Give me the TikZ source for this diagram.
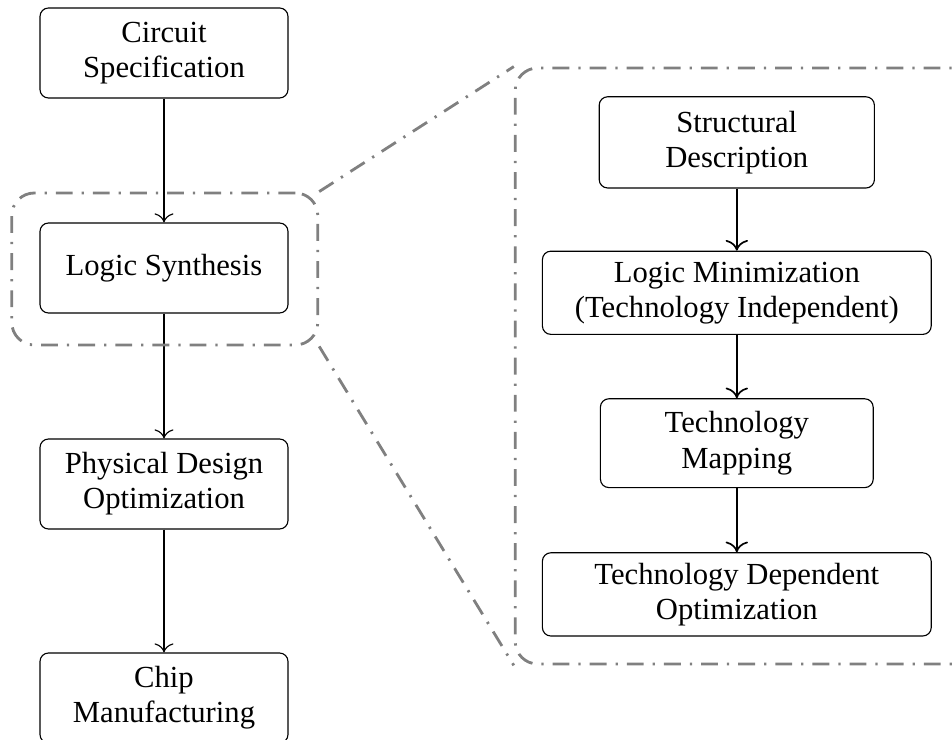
\documentclass[tikz,border=0pt]{standalone}
\usepackage{fontspec}
\setmainfont{Liberation Serif}
\usepackage{tikz}
\usetikzlibrary{shapes,arrows,arrows.meta}

\tikzset{
  etape/.style={draw, rounded corners=3pt, align=center, minimum width=3.1cm, minimum height=1.125cm, font=\fontsize{10.9}{12.5}\selectfont},
  etapelarge/.style={etape, minimum width=4.86cm, minimum height=1.04cm},
  cadre/.style={draw=gray, line width=1pt, rounded corners=8pt, dash pattern=on 6pt off 3.2pt on 0.8pt off 3.2pt},
  fleche/.style={-{To[scale=1.3]}},
}

\begin{document}
\begin{tikzpicture}
\useasboundingbox (0,0) rectangle (11.9,-9.25);

% flot principal
\node[etape] (spec) at (2.05,-0.6625) {Circuit\\Specification};
\node[etape] (synth) at (2.05,-3.35) {Logic Synthesis};
\node[etape] (phys) at (2.05,-6.05) {Physical Design\\Optimization};
\node[etape] (chip) at (2.05,-8.725) {Chip\\Manufacturing};

\draw[fleche] (spec) -- (synth);
\draw[fleche] (synth) -- (phys);
\draw[fleche] (phys) -- (chip);

% detail de la synthese
\node[etape, minimum width=3.44cm, minimum height=1.14cm] (struct) at (9.21,-1.78) {Structural\\Description};
\node[etapelarge] (minim) at (9.21,-3.66) {Logic Minimization\\(Technology Independent)};
\node[etape, minimum width=3.41cm, minimum height=1.11cm] (mapping) at (9.21,-5.54) {Technology\\Mapping};
\node[etapelarge] (optim) at (9.21,-7.43) {Technology Dependent\\Optimization};

\draw[fleche, semithick] (struct) -- (minim);
\draw[fleche, semithick] (minim) -- (mapping);
\draw[fleche, semithick] (mapping) -- (optim);

% cadres du zoom
\node[cadre, minimum width=3.825cm, minimum height=1.9cm] (petit) at (2.06,-3.3625) {};
\node[cadre, minimum width=6.06cm, minimum height=7.45cm] (grand) at (9.47,-4.575) {};
\draw[cadre] (petit.north east) -- (grand.north west);
\draw[cadre] (petit.south east) -- (grand.south west);

\end{tikzpicture}
\end{document}
